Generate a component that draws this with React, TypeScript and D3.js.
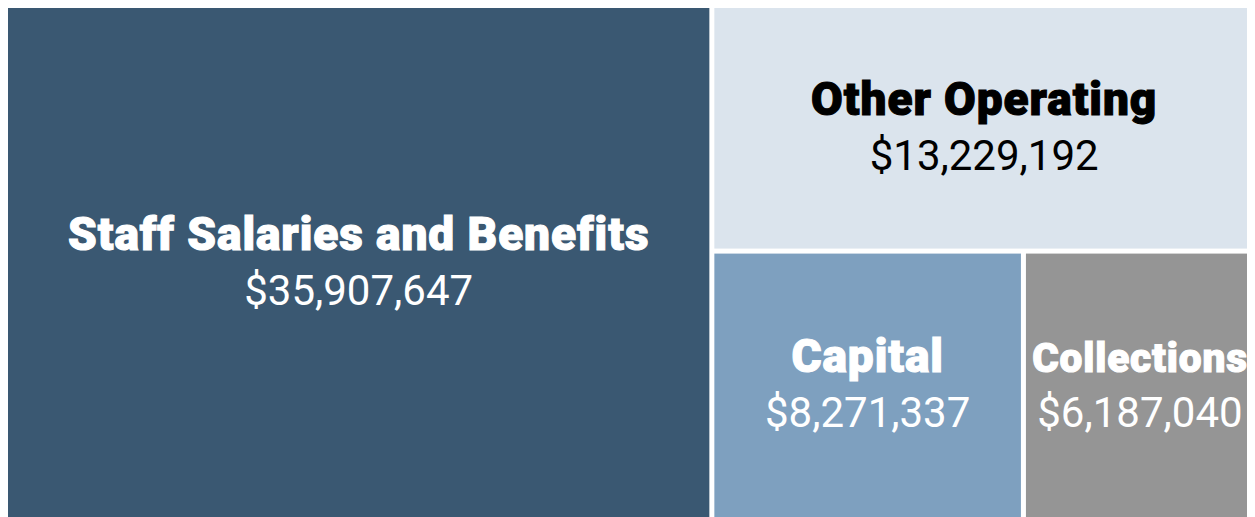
import React from "react";
import * as d3 from "d3";

const categories = ["Staff Salaries and Benefits", "Other Operating", "Capital", "Collections"];
const values = [35907647, 13229192, 8271337, 6187040];
const colors = ["#3a5872", "#dbe4ed", "#7ea0bf", "#959595"];
const textColors = ["#ffffff", "#000000", "#ffffff", "#ffffff"];

const W = 1246;
const H = 509;
const LABEL_SIZE = 46;
const VALUE_SIZE = 42;
const LS_EM = 0.02;

type Node = { name: string; children?: any[]; value?: number; idx?: number };

function nest(i: number): Node {
  const leaf: Node = { name: categories[i], value: values[i], idx: i };
  if (i === categories.length - 1) return leaf;
  return { name: "group" + i, children: [leaf, nest(i + 1)] };
}

let ctx: CanvasRenderingContext2D | null = null;
function measure(text: string, size: number): number {
  if (!ctx) ctx = document.createElement("canvas").getContext("2d");
  if (!ctx) return text.length * size * 0.5;
  ctx.font = `bold ${size}px Roboto`;
  return ctx.measureText(text).width + text.length * size * LS_EM;
}

export default function App() {
  const root = d3
    .hierarchy<Node>(nest(0))
    .sum((d: any) => (d.children ? 0 : d.value));
  d3.treemap<Node>().tile(d3.treemapSliceDice).size([W, H]).paddingInner(5)(root);
  const leaves = root.leaves() as any[];
  const fmt = d3.format("$,");
  return (
    <svg width={W} height={H} style={{ display: "block" }} fontFamily="Roboto, sans-serif">
      {leaves.map((l) => {
        const i = l.data.idx as number;
        const cx = (l.x0 + l.x1) / 2;
        const cy = (l.y0 + l.y1) / 2;
        const avail = l.x1 - l.x0 - 14;
        const w = measure(categories[i], LABEL_SIZE);
        const ls = w > avail ? (LABEL_SIZE * avail) / w : LABEL_SIZE;
        return (
          <g key={i}>
            <rect x={l.x0} y={l.y0} width={l.x1 - l.x0} height={l.y1 - l.y0} fill={colors[i]} />
            <text
              x={cx}
              y={cy - 13}
              textAnchor="middle"
              fontWeight={900}
              fontSize={ls}
              letterSpacing={ls * LS_EM}
              stroke={textColors[i]}
              strokeWidth={1.1}
              fill={textColors[i]}
            >
              {categories[i]}
            </text>
            <text
              x={cx}
              y={cy + 42}
              textAnchor="middle"
              fontWeight={400}
              fontSize={VALUE_SIZE}
              fill={textColors[i]}
            >
              {fmt(values[i])}
            </text>
          </g>
        );
      })}
    </svg>
  );
}
